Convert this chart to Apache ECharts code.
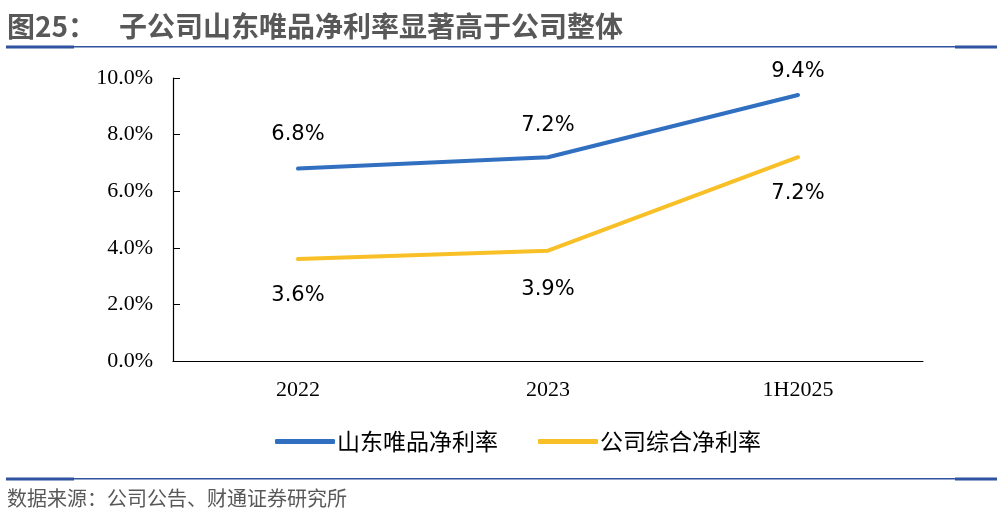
<!DOCTYPE html>
<html>
<head>
<meta charset="utf-8">
<script src="https://cdn.jsdelivr.net/npm/echarts@6/dist/echarts.min.js"></script>
<style>
html,body{margin:0;padding:0;background:#fff;}
#c{width:999px;height:522px;}
</style>
</head>
<body>
<div id="c"></div>
<script>
var categories = ['2022', '2023', '1H2025'];
var seriesNames = ['山东唯品净利率', '公司综合净利率'];
var weipinRate = [6.8, 7.2, 9.4];
var groupRate = [3.6, 3.9, 7.2];
var titleLabel = '图25：';
var titleText = '子公司山东唯品净利率显著高于公司整体';
var sourceText = '数据来源：公司公告、财通证券研究所';

var blue = '#3170C0';
var yellow = '#F9BF26';
var rule = '#2F53A0';
var cjk = '"Noto Sans CJK SC", "Noto Sans", sans-serif';
var pct = function (p) { return p.value.toFixed(1) + '%'; };

// per-point label distances (layout only)
var blueDist = [23, 20, 12];
var yellowDist = [25, 27, 25];

var chart = echarts.init(document.getElementById('c'));
chart.setOption({
  animation: false,
  backgroundColor: '#fff',
  grid: { left: 173, right: 76, top: 78, bottom: 161 },
  xAxis: {
    type: 'category',
    data: categories,
    boundaryGap: true,
    axisLine: { lineStyle: { color: '#000', width: 1.2 } },
    axisTick: { inside: true, length: 8, lineStyle: { color: '#000' } },
    axisLabel: { margin: 18, color: '#000', fontSize: 22, fontFamily: '"Liberation Serif", serif' },
    splitLine: { show: false }
  },
  yAxis: {
    type: 'value',
    min: 0, max: 10, interval: 2,
    axisLine: { show: true, lineStyle: { color: '#000', width: 1.2 } },
    axisTick: { show: true, inside: true, length: 7, lineStyle: { color: '#000' } },
    splitLine: { show: false },
    axisLabel: {
      margin: 20, color: '#000', fontSize: 22, fontFamily: '"Liberation Serif", serif',
      formatter: function (v) { return v.toFixed(1) + '%'; }
    }
  },
  legend: {
    left: 270, top: 425,
    icon: 'roundRect',
    itemWidth: 60, itemHeight: 5, itemGap: 40,
    textStyle: { fontSize: 23, color: '#000', fontFamily: cjk, padding: [0, 0, 0, -3] },
    data: seriesNames
  },
  series: [
    {
      name: seriesNames[0], type: 'line',
      data: weipinRate.map(function (v, i) { return { value: v, label: { distance: blueDist[i] } }; }),
      symbol: 'circle', symbolSize: 2,
      itemStyle: { color: blue },
      lineStyle: { color: blue, width: 4, cap: 'round' },
      label: { show: true, position: 'top', fontSize: 21, color: '#000',
        fontFamily: '"DejaVu Sans", sans-serif', formatter: pct }
    },
    {
      name: seriesNames[1], type: 'line',
      data: groupRate.map(function (v, i) { return { value: v, label: { distance: yellowDist[i] } }; }),
      symbol: 'circle', symbolSize: 2,
      itemStyle: { color: yellow },
      lineStyle: { color: yellow, width: 4, cap: 'round' },
      label: { show: true, position: 'bottom', fontSize: 21, color: '#000',
        fontFamily: '"DejaVu Sans", sans-serif', formatter: pct }
    }
  ],
  graphic: [
    { type: 'text', left: 7, top: 12, style: { text: titleLabel, fontSize: 28, fontWeight: 'bold', fontFamily: cjk, fill: '#585858' } },
    { type: 'text', left: 119, top: 12, style: { text: titleText, fontSize: 28, fontWeight: 'bold', fontFamily: cjk, fill: '#585858' } },
    { type: 'rect', shape: { x: 6, y: 46, width: 991, height: 1.5 }, style: { fill: rule } },
    { type: 'rect', shape: { x: 6, y: 45.5, width: 68, height: 3 }, style: { fill: rule } },
    { type: 'rect', shape: { x: 955, y: 45.5, width: 42, height: 3 }, style: { fill: rule } },
    { type: 'rect', shape: { x: 6, y: 478, width: 991, height: 1.5 }, style: { fill: rule } },
    { type: 'rect', shape: { x: 6, y: 477.5, width: 68, height: 3 }, style: { fill: rule } },
    { type: 'rect', shape: { x: 955, y: 477.5, width: 42, height: 3 }, style: { fill: rule } },
    { type: 'text', left: 7, top: 488, style: { text: sourceText, fontSize: 20, fontFamily: cjk, fill: '#585858' } }
  ]
});
</script>
</body>
</html>
